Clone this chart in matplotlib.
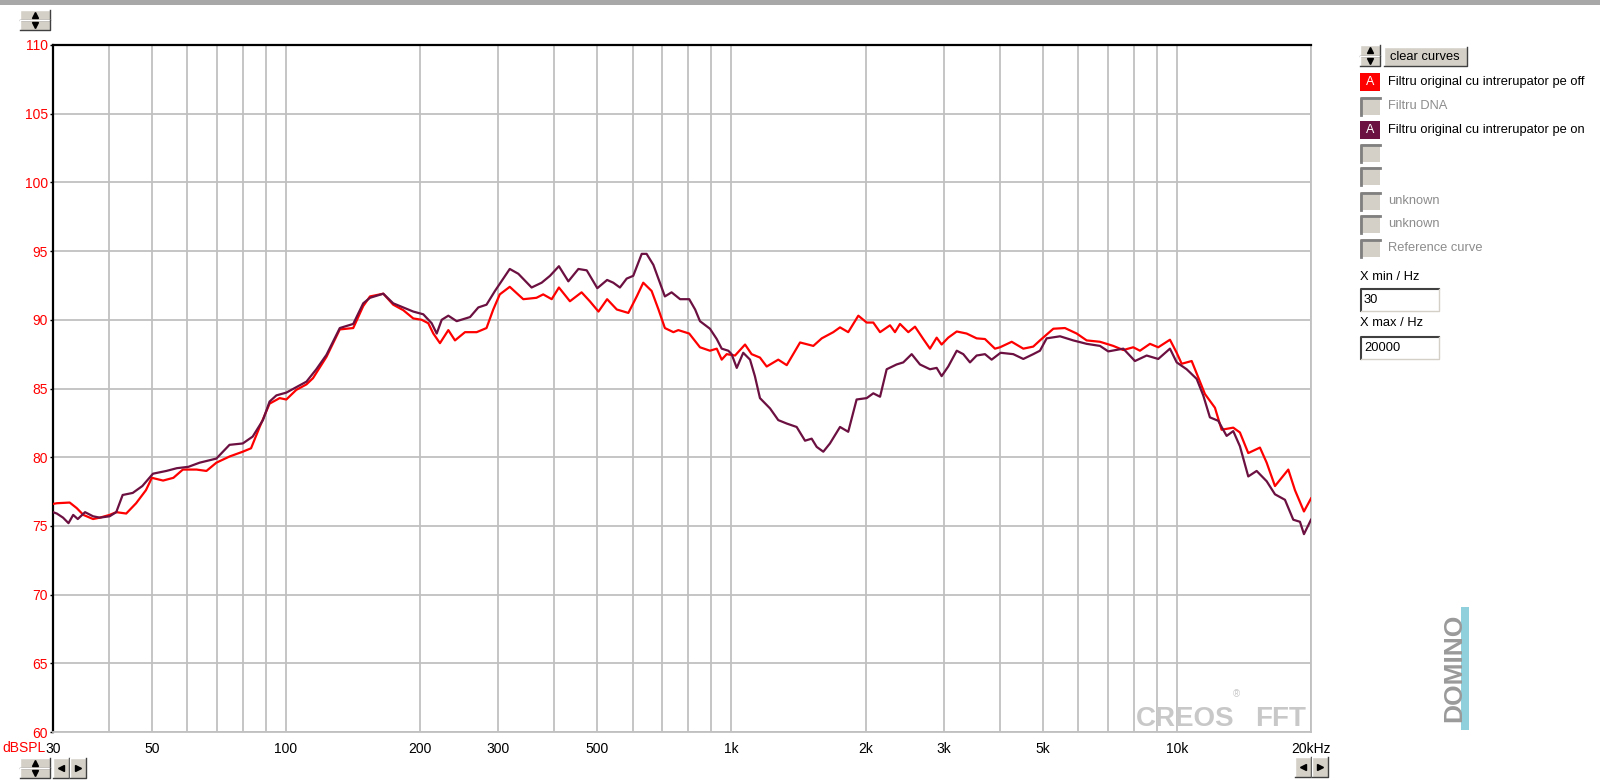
import matplotlib
matplotlib.use('Agg')
import matplotlib.pyplot as plt
from matplotlib.patches import Rectangle
from matplotlib.lines import Line2D
from matplotlib.ticker import NullLocator

plt.rcParams['font.family'] = ['Liberation Sans', 'DejaVu Sans']

# valori (Hz, dBSPL)
red_hz = [30, 30.6, 32.7, 33.9, 35.1, 36.9, 38.2, 40.2, 41.6, 43.8, 46.1, 48.5, 50, 53, 55.9, 58.7,
          60.4, 63, 66.3, 69.8, 74.7, 80, 83.5, 87.3, 91.9, 96.8, 100.2, 105.5, 111.2, 115, 123.3,
          132.1, 141.6, 149.1, 154.4, 165.4, 174.1, 183.4, 193.1, 201.7, 208.7, 214.2, 221.7, 231.5,
          239.6, 252.3, 268, 282, 292, 302, 318, 341, 365, 378, 395, 410, 434, 461, 481, 503, 526,
          553, 587, 613, 634, 662, 686, 709, 741, 760, 804, 850, 895, 927, 951, 976, 1019, 1073,
          1110, 1159, 1200, 1274, 1331, 1426, 1527, 1595, 1693, 1753, 1829, 1927, 2012, 2082, 2156,
          2270, 2329, 2390, 2495, 2583, 2696, 2791, 2889, 2964, 3067, 3205, 3373, 3552, 3708, 3905,
          4008, 4258, 4521, 4759, 4927, 5280, 5607, 5958, 6273, 6720, 7197, 7579, 7981, 8262, 8700,
          9081, 9648, 9990, 10250, 10794, 11169, 11559, 12173, 12600, 13381, 13850, 14461, 15361,
          15905, 16602, 17785, 18409, 19285, 20000]
red_db = [76.6, 76.65, 76.7, 76.3, 75.8, 75.5, 75.6, 75.8, 76.0, 75.9, 76.65, 77.6, 78.5, 78.3, 78.5, 79.1,
          79.1, 79.1, 79.0, 79.6, 80.05, 80.4, 80.65, 82.2, 83.9, 84.3, 84.2, 84.9, 85.3, 85.75, 87.3,
          89.3, 89.4, 91.0, 91.7, 91.9, 91.1, 90.7, 90.1, 90.0, 89.75, 89.0, 88.3, 89.25,
          88.5, 89.1, 89.1, 89.4, 90.75, 91.85, 92.4, 91.5, 91.6, 91.85, 91.5, 92.35, 91.35, 92.0, 91.35, 90.6, 91.5,
          90.75, 90.5, 91.7, 92.7, 92.1, 90.75, 89.4, 89.1, 89.25, 89.0, 88.0, 87.75, 87.9, 87.1, 87.5, 87.4, 88.2,
          87.5, 87.25, 86.6, 87.1, 86.7, 88.35, 88.1, 88.65, 89.1, 89.45, 89.1, 90.3, 89.8, 89.8, 89.1,
          89.6, 89.1, 89.7, 89.1, 89.5, 88.6, 87.9, 88.7, 88.2, 88.7, 89.15, 89.0, 88.65, 88.6, 87.9,
          88.0, 88.4, 87.9, 88.05, 88.5, 89.35, 89.4, 89.0, 88.5, 88.4, 88.1, 87.8, 88.0, 87.75, 88.25,
          88.0, 88.55, 87.6, 86.8, 87.0, 85.8, 84.6, 83.6, 82.0, 82.15, 81.8, 80.3, 80.7,
          79.6, 77.9, 79.1, 77.6, 76.05, 77.0]

maroon_hz = [30, 30.6, 31.6, 32.5, 33.3, 34.1, 35.4, 36.9, 38.2, 40.2, 41.6, 43, 45.3, 47.6, 50.3, 53.9,
             56.9, 60.4, 64, 69.8, 74.7, 80, 84.2, 88.8, 91.9, 95.2, 100.2, 105.5, 111.2, 117, 123.3,
             132.1, 141.6, 149.1, 154.4, 165.4, 174.1, 183.4, 193.1, 203.4, 212.4, 218, 223.7, 231.5,
             241.7, 259, 270.3, 282, 294.6, 307.5, 318, 332.4, 356, 375, 391.5, 410, 430.5, 453.4,
             473.4, 500, 526, 543, 562, 582, 602, 629, 645, 668, 691, 709, 734, 767, 804, 829, 850,
             895, 927, 951, 984, 1001, 1028, 1063, 1101, 1129, 1159, 1221, 1274, 1331, 1401, 1463,
             1514, 1554, 1608, 1664, 1753, 1829, 1910, 2012, 2082, 2156, 2231, 2349, 2431, 2539, 2650,
             2791, 2889, 2964, 3067, 3205, 3315, 3432, 3552, 3708, 3838, 4020, 4292, 4521, 4759, 4927,
             5101, 5466, 5853, 6273, 6720, 7014, 7579, 8051, 8553, 9081, 9648, 9990, 10518, 11076,
             11458, 11861, 12382, 12931, 13381, 13850, 14461, 15101, 15905, 16602, 17481, 18249,
             18891, 19285, 20000]
maroon_db = [76.0, 75.9, 75.6, 75.2, 75.8, 75.5, 76.0, 75.7, 75.6, 75.7, 76.0, 77.25, 77.4, 77.9, 78.8, 79.0,
             79.2, 79.3, 79.6, 79.9, 80.9, 81.0, 81.5, 82.7, 84.05, 84.5, 84.7, 85.1, 85.5, 86.4, 87.45,
             89.4, 89.7, 91.2, 91.6, 91.9, 91.2, 90.9, 90.6, 90.4, 89.75, 89.0, 90.0, 90.3,
             89.9, 90.2, 90.9, 91.1, 92.1, 93.0, 93.7, 93.35, 92.35, 92.7, 93.2, 93.9, 92.8, 93.7,
             93.6, 92.3, 92.9, 92.7, 92.35, 93.0, 93.2, 94.8, 94.8, 94.0, 92.7, 91.7, 92.0, 91.5, 91.5, 90.75, 89.9,
             89.35, 88.6, 87.9, 87.75, 87.5, 86.5, 87.6, 87.1, 85.9, 84.3, 83.55, 82.7, 82.45, 82.2, 81.2,
             81.35, 80.75, 80.4, 81.0, 82.2, 81.85, 84.2, 84.3, 84.65, 84.4, 86.4, 86.75, 86.9, 87.5, 86.75,
             86.4, 86.5, 85.9, 86.6, 87.75, 87.5, 86.9, 87.4, 87.5, 87.1, 87.6, 87.5, 87.15, 87.5, 87.75,
             88.65, 88.8, 88.5, 88.25, 88.1, 87.7, 87.9, 87.0, 87.4, 87.15, 87.9, 86.9, 86.4, 85.7,
             84.5, 82.9, 82.65, 81.55, 81.9, 80.8, 78.6, 79.0, 78.25, 77.3, 76.9, 75.45,
             75.3, 74.4, 75.45]

grid_hz = [30, 40, 50, 60, 70, 80, 90, 100, 200, 300, 400, 500, 600, 700, 800, 900,
           1000, 2000, 3000, 4000, 5000, 6000, 7000, 8000, 9000, 10000, 20000]
x_labels = {30: '30', 50: '50', 100: '100', 200: '200', 300: '300', 500: '500', 1000: '1k',
            2000: '2k', 3000: '3k', 5000: '5k', 10000: '10k', 20000: '20kHz'}
db_ticks = [60, 65, 70, 75, 80, 85, 90, 95, 100, 105, 110]

legend_labels = ['Filtru original cu intrerupator pe off', 'Filtru DNA',
                 'Filtru original cu intrerupator pe on', '', '', 'unknown', 'unknown', 'Reference curve']
legend_fill = ['#ff0000', None, '#6b1040', None, None, None, None, None]

RED = '#ff0000'
MAROON = '#6b1040'
W, H = 1600, 780

fig = plt.figure(figsize=(16, 7.8), dpi=100)
fig.patch.set_facecolor('white')
ax = fig.add_axes([53 / W, 1 - 732 / H, (1311 - 53) / W, (732 - 45) / H])

ax.plot(red_hz, red_db, color=RED, lw=1.6, zorder=3)
ax.plot(maroon_hz, maroon_db, color=MAROON, lw=1.6, zorder=4)

ax.set_xscale('log')
ax.set_xlim(30, 20000)
ax.set_ylim(60, 110)
ax.set_xticks(grid_hz)
ax.set_xticklabels([x_labels.get(f, '') for f in grid_hz])
ax.xaxis.set_minor_locator(NullLocator())
ax.set_yticks(db_ticks)
ax.set_yticklabels([str(v) for v in db_ticks])
ax.tick_params(axis='x', length=0, pad=7, labelsize=10, labelcolor='black')
ax.tick_params(axis='y', length=2.5, width=1, pad=1, labelsize=10, labelcolor=RED, color='black')
ax.grid(True, color='#c0c0c0', lw=1.3)
ax.set_axisbelow(True)
for s in ['left', 'top']:
    ax.spines[s].set_color('black')
    ax.spines[s].set_linewidth(1.6)
for s in ['right', 'bottom']:
    ax.spines[s].set_color('#c0c0c0')
    ax.spines[s].set_linewidth(1.3)

fig.text(46 / W, 1 - 748 / H, 'dBSPL', color=RED, fontsize=10, ha='right', va='center')


def fx(x):
    return x / W


def fy(y):
    return 1 - y / H


def line(xs, ys, color, lw=1.0):
    fig.add_artist(Line2D([fx(x) for x in xs], [fy(y) for y in ys], color=color, lw=lw,
                          transform=fig.transFigure))


def rect(x0, y0, w, h, color):
    fig.add_artist(Rectangle((fx(x0), fy(y0 + h)), w / W, h / H, facecolor=color, edgecolor='none',
                             transform=fig.transFigure))


def raised(x0, y0, w, h):
    rect(x0, y0, w, h, '#d4d0c8')
    line([x0, x0, x0 + w], [y0 + h, y0, y0], 'white')
    line([x0, x0 + w, x0 + w], [y0 + h, y0 + h, y0], '#404040')


def mark(x, y, m, size=4):
    fig.add_artist(Line2D([fx(x)], [fy(y)], marker=m, ms=size, color='black', lw=0,
                          transform=fig.transFigure))


def spinner(x0, y0, w, h):
    raised(x0, y0, w, h / 2)
    raised(x0, y0 + h / 2, w, h / 2)
    mark(x0 + w / 2, y0 + h / 4, '^', 4)
    mark(x0 + w / 2, y0 + 3 * h / 4, 'v', 4)


def arrows(x0, y0):
    raised(x0, y0, 16, 20)
    raised(x0 + 17, y0, 16, 20)
    mark(x0 + 8, y0 + 10, '<', 4)
    mark(x0 + 25, y0 + 10, '>', 4)


# bara de sus si butoane
rect(0, 0, W, 5, '#a8a8a8')
spinner(20, 10, 30, 20)
spinner(20, 758, 30, 20)
arrows(53, 758)
arrows(1295, 757)

# panoul din dreapta
spinner(1360, 45, 20, 21)
raised(1384, 47, 83, 19)
fig.text(fx(1425), fy(57), 'clear curves', fontsize=9.3, ha='center', va='center')

row_y = [82, 106, 130, 153, 176, 201, 224, 248]
for yc, lab, col in zip(row_y, legend_labels, legend_fill):
    if col is None:
        rect(1360, yc - 9, 20, 18, '#d4d0c8')
        line([1361, 1361, 1380], [yc + 9, yc - 8, yc - 8], '#808080', 2)
        tcol = '#8c8c8c'
    else:
        rect(1360, yc - 9, 20, 18, col)
        fig.text(fx(1370), fy(yc), 'A', color='white', fontsize=9, ha='center', va='center')
        tcol = 'black'
    fig.text(fx(1388), fy(yc), lab, color=tcol, fontsize=9.3, ha='left', va='center')

for ylab, ybox, val in [(277, 288, '30'), (323, 336, '20000')]:
    fig.text(fx(1360), fy(ylab), 'X min / Hz' if val == '30' else 'X max / Hz',
             fontsize=9.3, ha='left', va='center')
    rect(1360, ybox, 79, 23, 'white')
    line([1361, 1361, 1439], [ybox + 23, ybox + 1, ybox + 1], '#404040', 1.5)
    line([1361, 1439, 1439], [ybox + 23, ybox + 23, ybox + 1], '#d4d0c8', 1)
    fig.text(fx(1364), fy(ybox + 12), val, fontsize=9.3, ha='left', va='center')

# sigle
fig.text(fx(1136), fy(732), 'CREOS', color='#c8c8c8', fontsize=20, fontweight='bold',
         ha='left', va='bottom')
fig.text(fx(1306), fy(732), 'FFT', color='#c8c8c8', fontsize=20, fontweight='bold',
         ha='right', va='bottom')
fig.text(fx(1236), fy(694), '\u00ae', color='#c8c8c8', fontsize=7, ha='center', va='center')
rect(1461, 607, 8, 123, '#8fd0dc')
fig.text(fx(1454), fy(668), 'DOMINO', color='#9a9a9a', fontsize=19, fontweight='bold',
         rotation=90, ha='center', va='center')

fig.savefig('out.png', dpi=100, facecolor='white')
